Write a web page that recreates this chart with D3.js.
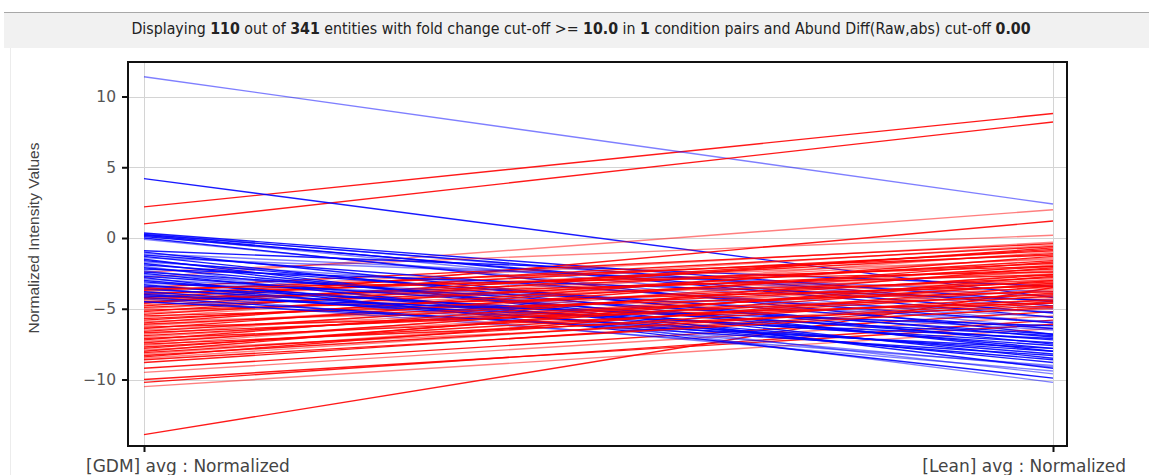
<!DOCTYPE html>
<html>
<head>
<meta charset="utf-8">
<script src="https://cdn.jsdelivr.net/npm/d3@7"></script>
<style>
  body { margin: 0; background: #fff; }
  svg { display: block; }
</style>
</head>
<body>
<div id="chart"></div>
<script>
var width = 1149, height = 475;

var conditions = ["[GDM] avg : Normalized", "[Lean] avg : Normalized"];
var yTicks = [-10, -5, 0, 5, 10];

// entities going down from GDM to Lean (blue)
var downGDM = [11.4, 4.2, 0.35, 0.3, 0.25, 0.2, 0.15, 0.1, 0.0, -0.1,
  -0.9, -1.0, -1.1, -1.2, -1.3, -1.4, -1.5, -1.6, -1.7, -1.8,
  -1.9, -2.0, -2.1, -2.2, -2.3, -2.4, -2.5, -2.6, -2.7, -2.8,
  -2.9, -3.0, -3.1, -3.2, -3.3, -3.4, -3.5, -3.6, -3.8, -3.9,
  -4.0, -4.2, -4.3, -4.5, -4.1];
var downLean = [2.4, -4.2, -4.5, -5.0, -4.8, -5.6, -6.0, -5.3, -6.8, -6.4,
  -3.4, -7.5, -4.1, -6.0, -8.0, -3.8, -9.2, -7.0, -5.6, -8.5,
  -6.4, -10.2, -7.8, -4.4, -9.6, -6.8, -8.8, -5.9, -7.2, -9.9,
  -6.5, -8.2, -7.6, -5.2, -8.6, -6.9, -9.1, -7.4, -8.0, -9.4,
  -7.1, -8.3, -9.0, -7.8, -6.2];

// entities going up from GDM to Lean (red)
var upGDM = [2.2, 1.0, -2.8, -4.6, -13.9, -2.4,
  -8.8, -9.2, -9.5, -10.0, -10.2, -10.5,
  -3.5, -3.7, -3.8, -3.9, -4.0, -4.1, -4.2, -4.3, -4.4, -4.5,
  -4.6, -4.7, -4.8, -4.9, -5.0, -5.1, -5.2, -5.3, -5.4, -5.5,
  -5.6, -5.7, -5.8, -5.9, -6.0, -6.1, -6.2, -6.3, -6.4, -6.5,
  -6.6, -6.7, -6.8, -6.9, -7.0, -7.1, -7.2, -7.3, -7.4, -7.5,
  -7.6, -7.7, -7.8, -7.9, -8.0, -8.1, -8.2, -8.3, -8.4, -8.5,
  -8.6, -3.6, -4.25];
var upLean = [8.8, 8.2, 2.0, 1.2, -3.5, 0.2,
  -4.6, -5.2, -5.5, -6.1, -5.8, -6.4,
  -0.4, -1.2, -0.3, -2.0, -0.6, -1.5, -0.9, -2.6, -0.5, -1.8,
  -1.1, -3.0, -0.8, -2.2, -1.4, -3.4, -0.7, -2.4, -1.6, -3.8,
  -1.0, -2.8, -2.0, -4.2, -1.3, -3.1, -2.3, -4.6, -1.7, -3.5,
  -2.6, -4.0, -1.9, -3.3, -2.9, -4.4, -2.1, -3.7, -3.0, -4.8,
  -2.5, -3.9, -3.2, -5.0, -2.7, -4.1, -3.6, -4.5, -3.4, -4.3,
  -4.9, -2.4, -3.2];

var headerParts = [
  ["Displaying ", false], ["110", true], [" out of ", false], ["341", true],
  [" entities with fold change cut-off >= ", false], ["10.0", true],
  [" in ", false], ["1", true], [" condition pairs and Abund Diff(Raw,abs) cut-off ", false],
  ["0.00", true]
];

var entities = [];
var n = Math.max(upGDM.length, downGDM.length);
for (var i = 0; i < n; i++) {
  if (i < upGDM.length) entities.push({ v: [upGDM[i], upLean[i]], i: entities.length });
  if (i < downGDM.length) entities.push({ v: [downGDM[i], downLean[i]], i: entities.length });
}

var svg = d3.select("#chart").append("svg")
  .attr("width", width)
  .attr("height", height);

// header band
svg.append("rect").attr("x", 4).attr("y", 12).attr("width", width - 4).attr("height", 36)
  .attr("fill", "#f1f1f1");
svg.append("line").attr("x1", 4).attr("x2", width).attr("y1", 12.5).attr("y2", 12.5)
  .attr("stroke", "#a8a8a8");
svg.append("line").attr("x1", 10.5).attr("x2", 10.5).attr("y1", 48).attr("y2", height)
  .attr("stroke", "#ececec");

var header = svg.append("text")
  .attr("x", 581).attr("y", 34)
  .attr("text-anchor", "middle")
  .attr("font-family", "'DejaVu Sans Condensed', 'Liberation Sans', sans-serif")
  .attr("font-size", 12)
  .attr("fill", "#222");
headerParts.forEach(function (p) {
  header.append("tspan").attr("font-weight", p[1] ? "bold" : "normal").text(p[0]);
});
var hw = header.node().getComputedTextLength();
header.attr("font-size", 12 * 900 / hw);

var pLeft = 128, pRight = 1067, pTop = 62, pBottom = 446;

var x = d3.scalePoint().domain(conditions).range([144, 1053]);
var y = d3.scaleLinear().domain([-14.7, 12.44]).range([pBottom, pTop]);

// grid
svg.append("g").selectAll("line").data(yTicks).join("line")
  .attr("x1", pLeft).attr("x2", pRight)
  .attr("y1", function (d) { return Math.round(y(d)) + 0.5; })
  .attr("y2", function (d) { return Math.round(y(d)) + 0.5; })
  .attr("stroke", "#d4d4d4");
svg.append("g").selectAll("line").data(conditions).join("line")
  .attr("x1", function (d) { return x(d) + 0.5; })
  .attr("x2", function (d) { return x(d) + 0.5; })
  .attr("y1", pTop).attr("y2", pBottom)
  .attr("stroke", "#d4d4d4");

svg.append("clipPath").attr("id", "clip").append("rect")
  .attr("x", pLeft).attr("y", pTop).attr("width", pRight - pLeft).attr("height", pBottom - pTop);

var line = d3.line()
  .x(function (d, j) { return x(conditions[j]); })
  .y(function (d) { return y(d); });

svg.append("g").attr("clip-path", "url(#clip)")
  .selectAll("path").data(entities).join("path")
  .attr("d", function (d) { return line(d.v); })
  .attr("fill", "none")
  .attr("stroke", function (d) { return d.v[1] > d.v[0] ? "#ff0000" : "#0000ff"; })
  .attr("stroke-opacity", function (d) { return d.i % 3 === 1 ? 0.5 : 0.9; })
  .attr("stroke-width", 1.4);

// frame
svg.append("rect").attr("x", pLeft).attr("y", pTop).attr("width", pRight - pLeft).attr("height", pBottom - pTop)
  .attr("fill", "none").attr("stroke", "#111").attr("stroke-width", 2);

// y axis
var yAxis = d3.axisLeft(y).tickValues(yTicks).tickSize(6).tickPadding(6);
var ya = svg.append("g").attr("transform", "translate(" + pLeft + ",0)").call(yAxis);
ya.select(".domain").remove();
ya.selectAll(".tick line").attr("stroke", "#111").attr("stroke-width", 2);
ya.selectAll(".tick text").attr("font-family", "'DejaVu Sans', sans-serif")
  .attr("font-size", 15.5).attr("fill", "#555");

// x axis
var xAxis = d3.axisBottom(x).tickSize(6).tickFormat("");
var xa = svg.append("g").attr("transform", "translate(0," + pBottom + ")").call(xAxis);
xa.select(".domain").remove();
xa.selectAll(".tick line").attr("stroke", "#111").attr("stroke-width", 2);

svg.append("text").attr("x", 86).attr("y", 472)
  .attr("font-family", "'DejaVu Sans', sans-serif").attr("font-size", 17).attr("fill", "#444")
  .text(conditions[0]);
svg.append("text").attr("x", 1126).attr("y", 472).attr("text-anchor", "end")
  .attr("font-family", "'DejaVu Sans', sans-serif").attr("font-size", 17).attr("fill", "#444")
  .text(conditions[1]);

svg.append("text")
  .attr("transform", "translate(39,238) rotate(-90)")
  .attr("text-anchor", "middle")
  .attr("font-family", "'Liberation Sans', Arial, sans-serif").attr("font-size", 15.5).attr("fill", "#444")
  .text("Normalized Intensity Values");
</script>
</body>
</html>
